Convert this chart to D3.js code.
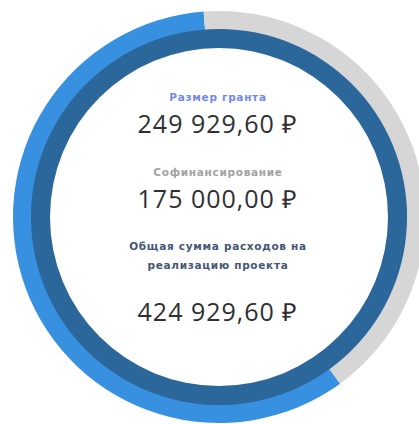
<!DOCTYPE html>
<html>
<head>
<meta charset="utf-8">
<script src="https://cdn.jsdelivr.net/npm/d3@7"></script>
<style>
  body { margin: 0; background: #fff; }
</style>
</head>
<body>
<script>
// data
var parts = ["Размер гранта", "Софинансирование"];
var amounts = [249929.60, 175000.00];
var totalLabel = ["Общая сумма расходов на", "реализацию проекта"];
var total = 424929.60;
var partColors = ["#3790e0", "#d6d6d6"];

var width = 419, height = 424;
var cx = 219, cy = 217;

var svg = d3.select("body").append("svg")
    .attr("width", width)
    .attr("height", height);

var g = svg.append("g").attr("transform", "translate(" + cx + "," + cy + ")");

// outer ring: grant vs cofinancing
var start = 144 * Math.PI / 180;
var pie = d3.pie().sort(null).startAngle(start).endAngle(start + 2 * Math.PI);
var outerArc = d3.arc().innerRadius(187).outerRadius(206);

g.selectAll("path.part")
  .data(pie(amounts))
  .enter().append("path")
    .attr("class", "part")
    .attr("d", outerArc)
    .attr("fill", function (d, i) { return partColors[i]; });

// inner ring: total
var innerArc = d3.arc().innerRadius(169).outerRadius(188);
g.selectAll("path.total")
  .data(d3.pie()([total]))
  .enter().append("path")
    .attr("class", "total")
    .attr("d", innerArc)
    .attr("fill", "#2c679c");

var fmt = function (v) {
  var s = v.toFixed(2).split(".");
  return s[0].replace(/\B(?=(\d{3})+(?!\d))/g, "\u00a0") + "," + s[1] + " \u20bd";
};

var tx = 218;
function label(txt, y, color) {
  svg.append("text")
    .attr("x", tx).attr("y", y)
    .attr("text-anchor", "middle")
    .attr("font-family", "'DejaVu Sans', sans-serif")
    .attr("font-size", 10.5)
    .attr("font-weight", 700)
    .attr("letter-spacing", 0.7)
    .attr("fill", color)
    .text(txt);
}
function value(v, y) {
  svg.append("text")
    .attr("x", tx).attr("y", y)
    .attr("text-anchor", "middle")
    .attr("font-family", "'Open Sans', sans-serif")
    .attr("font-size", 25)
    .attr("font-weight", 400)
    .attr("letter-spacing", 1)
    .attr("fill", "#2f2f33")
    .text(fmt(v));
}

label(parts[0], 101, "#7189e6");
value(amounts[0], 133);
label(parts[1], 176, "#a2a2a2");
value(amounts[1], 208);
label(totalLabel[0], 250, "#465576");
label(totalLabel[1], 269, "#465576");
value(total, 321);
</script>
</body>
</html>
